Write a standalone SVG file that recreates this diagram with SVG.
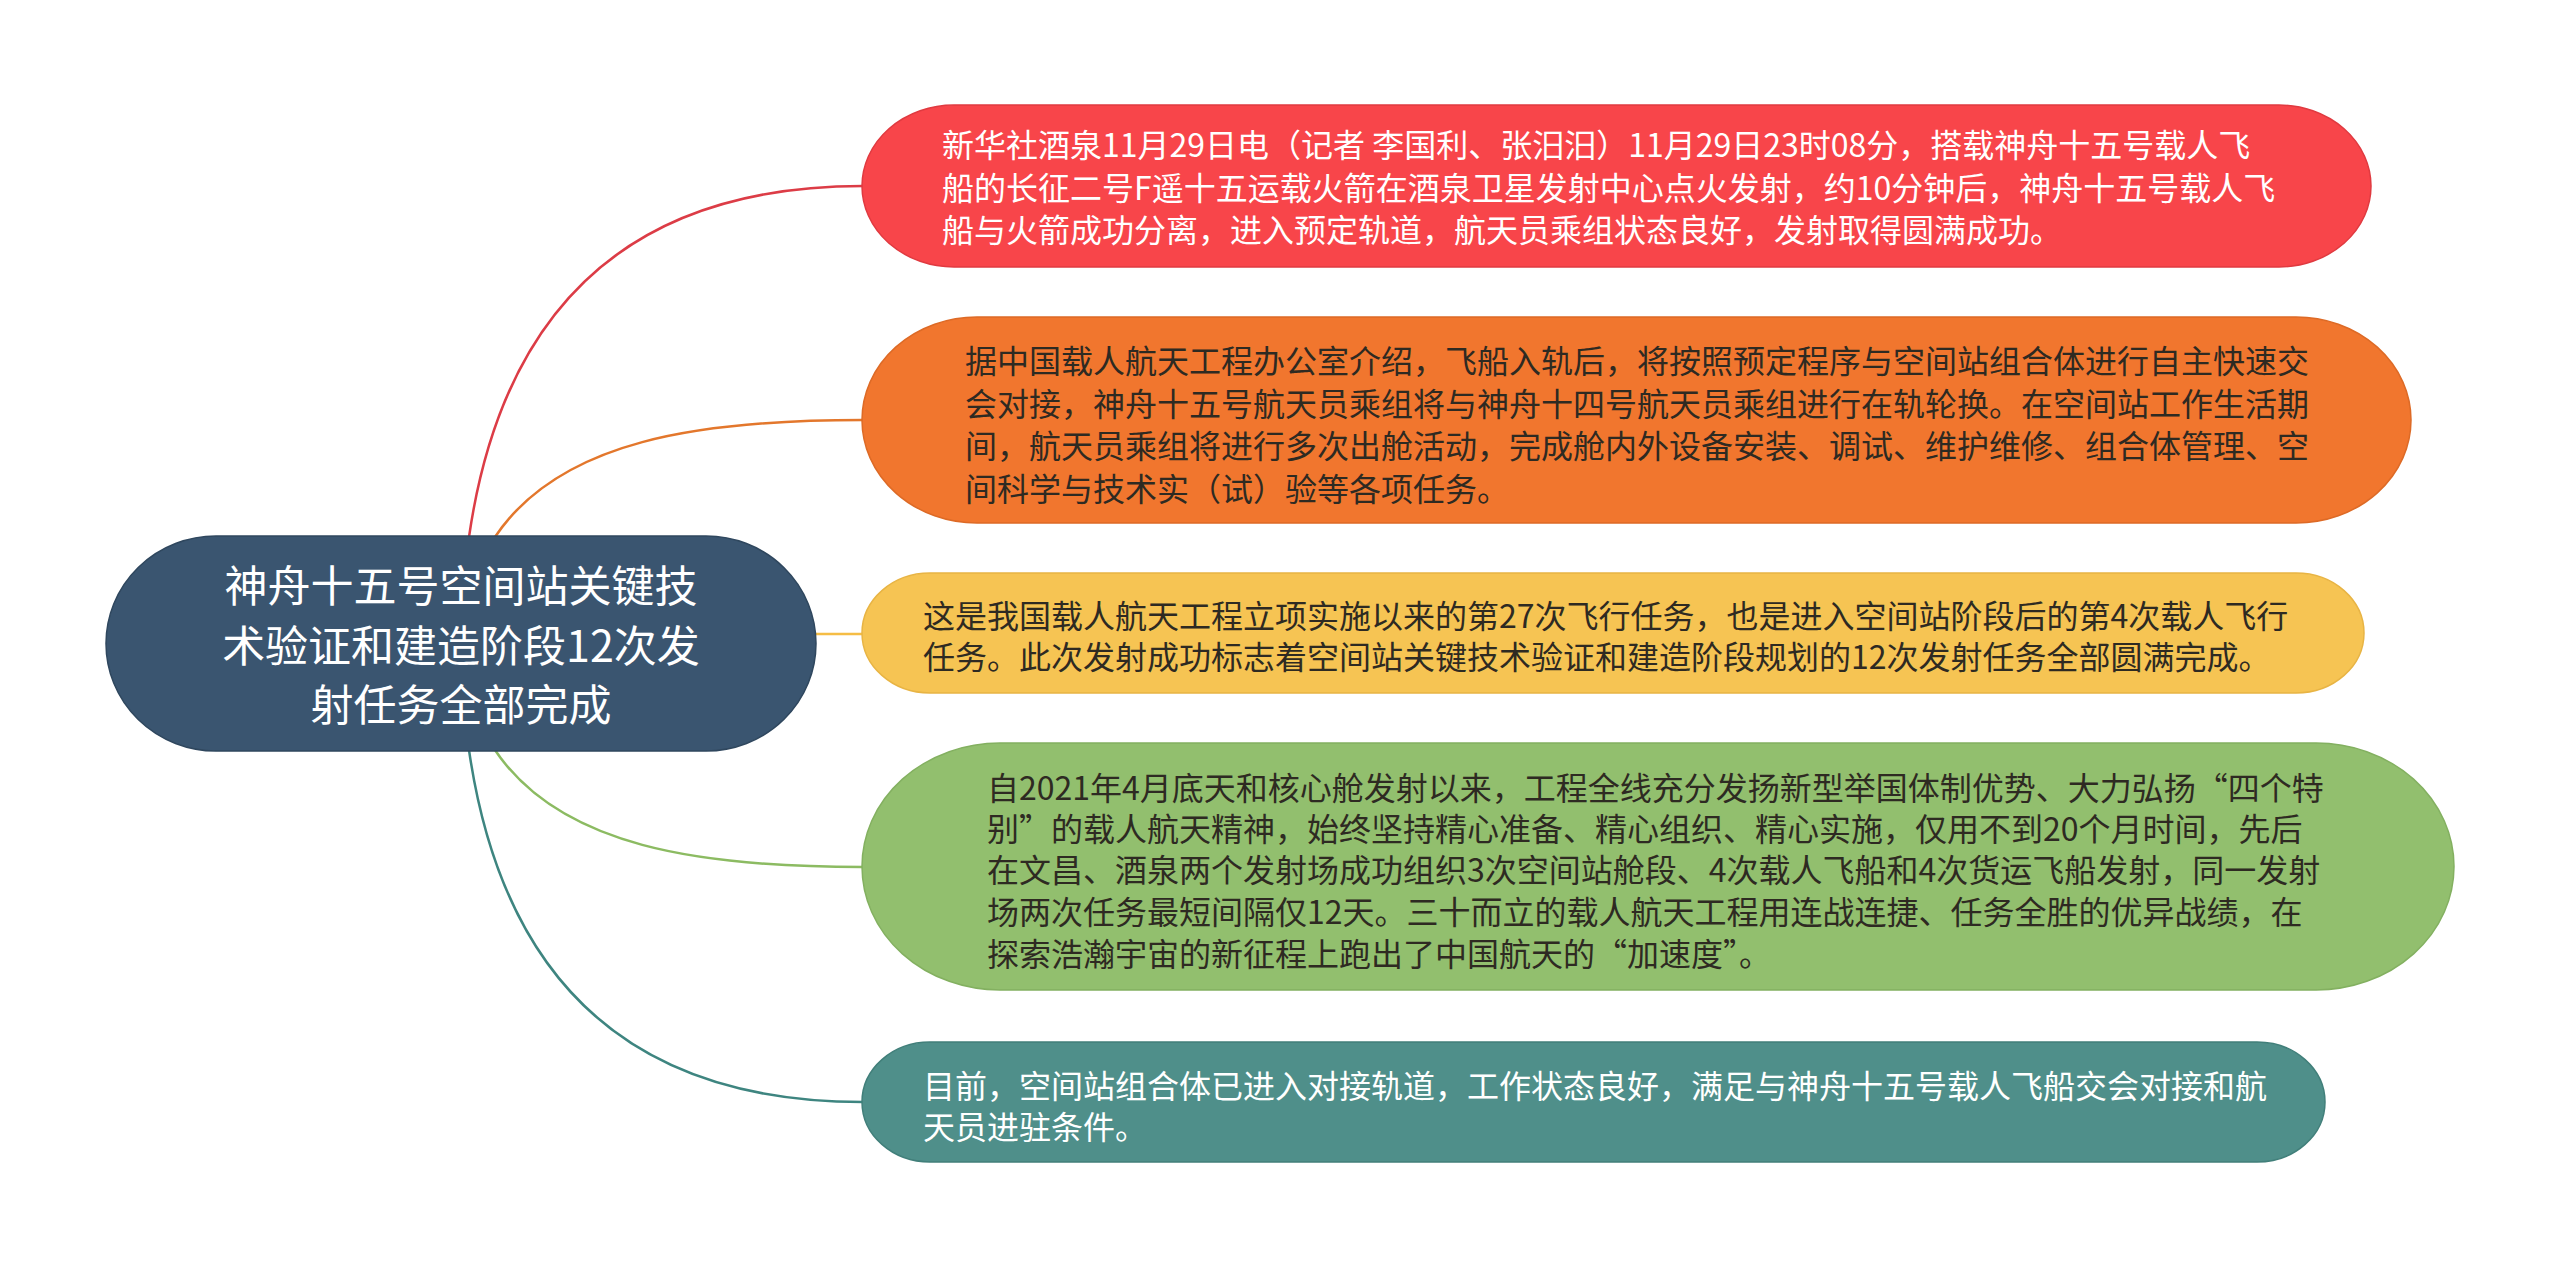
<svg xmlns="http://www.w3.org/2000/svg" width="2560" height="1267" viewBox="0 0 2560 1267" lang="zh-CN">
<style>
text{font-family:"Noto Sans CJK SC","Noto Sans",sans-serif;dominant-baseline:central;}
.t{font-size:32px;}
.w{fill:#ffffff;}
.d{fill:#2e2a22;}
.c{font-size:43px;fill:#ffffff;text-anchor:middle;}
.ln{fill:none;stroke-width:2.5;stroke-linecap:round;}
</style>
<rect width="2560" height="1267" fill="#ffffff"/>
<g id="connectors">
<path class="ln" stroke="#dc3c46" d="M469,537 Q520,186 863,186"/>
<path class="ln" stroke="#e3772c" d="M495,537 C560,440 700,420 863,420"/>
<path class="ln" stroke="#f5bd45" d="M816,634 L863,634"/>
<path class="ln" stroke="#8cbb62" d="M495,750 C560,847 700,867 863,867"/>
<path class="ln" stroke="#3e8580" d="M469,750 Q520,1102 863,1102"/>
</g>
<g id="center">
<rect x="106" y="536" width="710" height="215" rx="110" ry="107.5" fill="#3a5570" stroke="#2f475e" stroke-width="1.5"/>
<text class="c" x="461" y="583">神舟十五号空间站关键技</text>
<text class="c" x="461" y="643">术验证和建造阶段12次发</text>
<text class="c" x="461" y="702">射任务全部完成</text>
</g>
<g id="node1">
<rect x="862" y="105" width="1509" height="162" rx="92" ry="81" fill="#f8454a" stroke="#e03a40" stroke-width="1.5"/>
<text class="t w" x="942" y="143">新华社酒泉11月29日电（记者 李国利、张汨汨）11月29日23时08分，搭载神舟十五号载人飞</text>
<text class="t w" x="942" y="186">船的长征二号F遥十五运载火箭在酒泉卫星发射中心点火发射，约10分钟后，神舟十五号载人飞</text>
<text class="t w" x="942" y="228">船与火箭成功分离，进入预定轨道，航天员乘组状态良好，发射取得圆满成功。</text>
</g>
<g id="node2">
<rect x="862" y="317" width="1549" height="206" rx="115" ry="103" fill="#f1762e" stroke="#dd6a26" stroke-width="1.5"/>
<text class="t d" x="965" y="359">据中国载人航天工程办公室介绍，飞船入轨后，将按照预定程序与空间站组合体进行自主快速交</text>
<text class="t d" x="965" y="402">会对接，神舟十五号航天员乘组将与神舟十四号航天员乘组进行在轨轮换。在空间站工作生活期</text>
<text class="t d" x="965" y="444">间，航天员乘组将进行多次出舱活动，完成舱内外设备安装、调试、维护维修、组合体管理、空</text>
<text class="t d" x="965" y="487">间科学与技术实（试）验等各项任务。</text>
</g>
<g id="node3">
<rect x="862" y="573" width="1502" height="120" rx="68" ry="60" fill="#f6c453" stroke="#e8b444" stroke-width="1.5"/>
<text class="t d" x="923" y="614">这是我国载人航天工程立项实施以来的第27次飞行任务，也是进入空间站阶段后的第4次载人飞行</text>
<text class="t d" x="923" y="655">任务。此次发射成功标志着空间站关键技术验证和建造阶段规划的12次发射任务全部圆满完成。</text>
</g>
<g id="node4">
<rect x="862" y="743" width="1592" height="247" rx="138" ry="123.5" fill="#92bf6e" stroke="#83b060" stroke-width="1.5"/>
<text class="t d" x="987" y="786">自2021年4月底天和核心舱发射以来，工程全线充分发扬新型举国体制优势、大力弘扬“四个特</text>
<text class="t d" x="987" y="827">别”的载人航天精神，始终坚持精心准备、精心组织、精心实施，仅用不到20个月时间，先后</text>
<text class="t d" x="987" y="868">在文昌、酒泉两个发射场成功组织3次空间站舱段、4次载人飞船和4次货运飞船发射，同一发射</text>
<text class="t d" x="987" y="910">场两次任务最短间隔仅12天。三十而立的载人航天工程用连战连捷、任务全胜的优异战绩，在</text>
<text class="t d" x="987" y="952">探索浩瀚宇宙的新征程上跑出了中国航天的“加速度”。</text>
</g>
<g id="node5">
<rect x="862" y="1042" width="1463" height="120" rx="68" ry="60" fill="#4f8f8a" stroke="#417f7a" stroke-width="1.5"/>
<text class="t w" x="923" y="1084">目前，空间站组合体已进入对接轨道，工作状态良好，满足与神舟十五号载人飞船交会对接和航</text>
<text class="t w" x="923" y="1125">天员进驻条件。</text>
</g>
</svg>
